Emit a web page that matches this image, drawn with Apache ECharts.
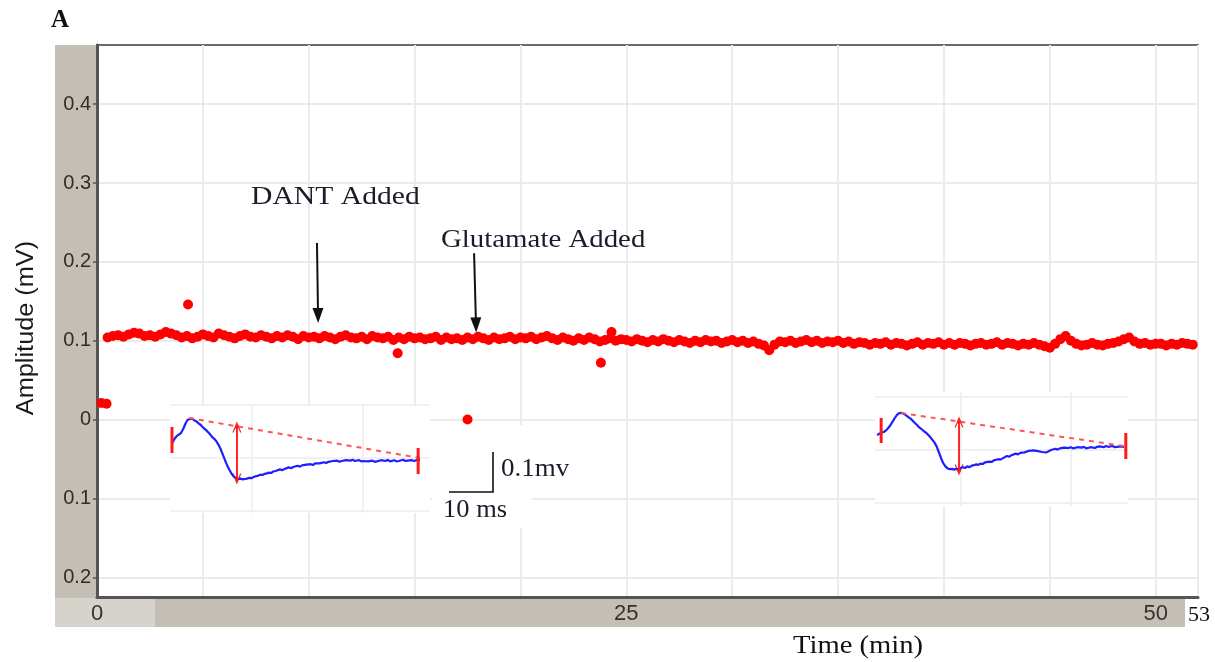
<!DOCTYPE html>
<html>
<head>
<meta charset="utf-8">
<script src="https://cdn.jsdelivr.net/npm/echarts@6/dist/echarts.min.js"></script>
<style>
  html, body { margin: 0; padding: 0; background: #ffffff; }
  #chart { width: 1215px; height: 662px; }
</style>
</head>
<body>
<div id="chart"></div>
<script>
// Field potential amplitude (mV), one reading every 0.25 min starting at 0.5 min
const sampleStart = 0.5;
const sampleStep = 0.25;
const amplitudeValues = [
  0.104,0.106,0.107,0.105,0.108,0.110,0.109,0.106,0.107,0.105,0.108,0.111,0.109,0.107,0.104,0.106,0.103,0.105,0.108,
  0.106,0.104,0.109,0.107,0.105,0.103,0.106,0.108,0.105,0.104,0.107,0.105,0.103,0.106,0.104,0.107,0.105,0.102,0.106,0.104,
  0.105,0.103,0.106,0.104,0.102,0.105,0.107,0.104,0.103,0.105,0.102,0.106,0.104,0.103,0.105,0.101,0.104,0.102,0.105,0.103,
  0.104,0.102,0.103,0.105,0.101,0.104,0.102,0.103,0.101,0.104,0.102,0.105,0.103,0.101,0.104,0.102,0.103,0.105,0.102,0.104,
  0.103,0.105,0.102,0.104,0.106,0.103,0.101,0.104,0.102,0.100,0.103,0.101,0.104,0.102,0.099,0.101,0.103,0.100,0.102,0.101,
  0.099,0.102,0.100,0.098,0.101,0.099,0.102,0.100,0.098,0.101,0.099,0.097,0.100,0.098,0.101,0.099,0.100,0.097,0.099,0.101,
  0.098,0.100,0.097,0.099,0.096,0.094,0.088,0.095,0.099,0.098,0.100,0.097,0.099,0.101,0.098,0.100,0.097,0.099,0.098,0.100,
  0.097,0.099,0.096,0.098,0.097,0.095,0.097,0.096,0.098,0.095,0.097,0.096,0.094,0.096,0.098,0.095,0.097,0.096,0.098,0.095,
  0.097,0.095,0.097,0.096,0.094,0.096,0.097,0.095,0.096,0.098,0.095,0.097,0.096,0.094,0.096,0.095,0.097,0.095,0.093,0.091,
  0.096,0.102,0.106,0.100,0.096,0.094,0.095,0.097,0.095,0.094,0.096,0.097,0.099,0.102,0.104,0.099,0.096,0.097,0.095,0.096,
  0.096,0.094,0.096,0.095,0.097,0.096,0.095
];
// Isolated readings away from the baseline: [time (min), amplitude (mV)]
const strayReadings = [[0.2,0.021],[0.45,0.020],[4.3,0.146],[14.2,0.084],[17.5,0.000],[23.8,0.072],[24.3,0.111]];

const yTickValues = [-0.2,-0.1,0,0.1,0.2,0.3,0.4];
const xLabelValues = [0,25,50];

// Drug application arrows: [time, amplitude] of tail and head
const dantArrow = [[10.39,0.224],[10.44,0.132]];
const glutamateArrow = [[17.81,0.211],[17.9,0.120]];

// Example evoked responses (ms, mV), early and late in the recording
const traceEarly = [
  [0.5,-0.095],[1.0,-0.085],[1.5,-0.078],[2.0,-0.074],[2.5,-0.070],[3.0,-0.060],[3.5,-0.047],[4.0,-0.037],[4.4,-0.033],
  [5.0,-0.034],[5.5,-0.038],[6.0,-0.041],[6.5,-0.046],[7.0,-0.050],[7.5,-0.056],[8.0,-0.061],[8.5,-0.066],[9.0,-0.072],
  [9.5,-0.079],[10.0,-0.084],[10.5,-0.090],[11.0,-0.099],[11.5,-0.110],[12.0,-0.124],[12.5,-0.138],[13.0,-0.151],
  [13.5,-0.162],[14.0,-0.172],[14.5,-0.179],[15.0,-0.183],[15.5,-0.185],[16.0,-0.184],[16.5,-0.186],[17.0,-0.185],
  [17.5,-0.184],[18.0,-0.182],[18.5,-0.183],[19.0,-0.180],[19.5,-0.178],[20.0,-0.177],[20.5,-0.174],[21.0,-0.175],
  [21.5,-0.172],[22.0,-0.171],[22.5,-0.169],[23.0,-0.170],[23.5,-0.166],[24.0,-0.165],[25.0,-0.161],[25.5,-0.163],[26.0,-0.160],
  [27.0,-0.156],[27.5,-0.158],[28.0,-0.155],[29.0,-0.152],[29.5,-0.154],[30.0,-0.151],[31.0,-0.149],[32.0,-0.148],[32.5,-0.150],[33.0,-0.146],[34.0,-0.146],
  [35.0,-0.143],[35.5,-0.145],[36.0,-0.142],[37.0,-0.140],[38.0,-0.139],[38.5,-0.142],[39.0,-0.140],[40.0,-0.138],[41.0,-0.139],[41.5,-0.137],[42.0,-0.140],
  [43.0,-0.138],[43.5,-0.141],[44.0,-0.140],[45.0,-0.141],[46.0,-0.139],[46.5,-0.142],[47.0,-0.141],[48.0,-0.138],[49.0,-0.140],[49.5,-0.137],[50.0,-0.141],
  [51.0,-0.138],[51.5,-0.141],[52.0,-0.140],[53.0,-0.137],[53.5,-0.140],[54.0,-0.139],[55.0,-0.138],[55.5,-0.140],[56.0,-0.138],[56.8,-0.137]
];
const baselineEarly = [[4.3,-0.0325],[56.8,-0.1325]];
const amplitudeEarly = [[15.2,-0.055],[15.2,-0.185]];
const cursorsEarly = [[0.45,-0.055,-0.12],[56.4,-0.1075,-0.1725]];

const traceLate = [
  [0.5,-0.108],[1.0,-0.104],[1.5,-0.101],[2.0,-0.100],[2.5,-0.096],[3.0,-0.090],[3.5,-0.083],[4.0,-0.074],[4.5,-0.065],
  [5.0,-0.057],[5.5,-0.053],[6.0,-0.052],[6.5,-0.054],[7.0,-0.058],[7.5,-0.062],[8.0,-0.066],[8.5,-0.071],[9.0,-0.077],
  [9.5,-0.082],[10.0,-0.088],[10.5,-0.092],[11.0,-0.097],[11.5,-0.101],[12.0,-0.106],[12.5,-0.112],[13.0,-0.119],
  [13.5,-0.126],[14.0,-0.136],[14.5,-0.150],[15.0,-0.165],[15.5,-0.178],[16.0,-0.186],[16.5,-0.191],[17.0,-0.193],
  [17.5,-0.192],[18.0,-0.194],[18.5,-0.192],[19.0,-0.193],[19.5,-0.190],[20.0,-0.188],[20.5,-0.190],[21.0,-0.186],
  [21.5,-0.188],[22.0,-0.184],[22.5,-0.183],[23.0,-0.181],[23.5,-0.182],[24.0,-0.179],[24.5,-0.180],[25.0,-0.176],[26.0,-0.174],[26.5,-0.175],[27.0,-0.171],
  [28.0,-0.168],[28.5,-0.169],[29.0,-0.166],[30.0,-0.160],[30.5,-0.162],[31.0,-0.158],[32.0,-0.154],[32.5,-0.156],[33.0,-0.152],[34.0,-0.151],[35.0,-0.147],
  [36.0,-0.146],[37.0,-0.148],[38.0,-0.150],[39.0,-0.151],[40.0,-0.145],[41.0,-0.142],[41.5,-0.144],[42.0,-0.141],[43.0,-0.139],
  [44.0,-0.140],[44.5,-0.138],[45.0,-0.141],[46.0,-0.138],[47.0,-0.139],[47.5,-0.137],[48.0,-0.141],[49.0,-0.138],[50.0,-0.140],[50.5,-0.137],[51.0,-0.136],
  [52.0,-0.138],[52.5,-0.135],[53.0,-0.137],[54.0,-0.135],[54.5,-0.138],[55.0,-0.137],[56.0,-0.136],[56.6,-0.137]
];
const baselineLate = [[5.9,-0.0525],[56.6,-0.135]];
const amplitudeLate = [[19.1,-0.075],[19.1,-0.195]];
const cursorsLate = [[1.4,-0.065,-0.1275],[57.0,-0.1025,-0.1675]];

// ---------------------------------------------------------------
const amplitudePoints = amplitudeValues.map((v, i) => [sampleStart + i * sampleStep, v]);

const serif = '"Liberation Serif", "Times New Roman", serif';
const sans = '"Liberation Sans", Arial, sans-serif';
const narrow = '"Liberation Sans Narrow", "Arial Narrow", "Liberation Sans", Arial, sans-serif';
const red = '#ff1a1a';
const openHead = 'path://M0,12 L5,0 L10,12 L8.6,12 L5,3.2 L1.4,12 Z';

function insetSeries(idx, trace, baseline, amp, cursors) {
  const common = { type: 'line', xAxisIndex: idx, yAxisIndex: idx, silent: true, z: 6, animation: false, showSymbol: false };
  const list = [
    Object.assign({}, common, { data: trace, lineStyle: { color: '#1e1eff', width: 2.2 } }),
    Object.assign({}, common, { data: baseline, lineStyle: { color: '#ff5555', width: 2, type: [5, 5] } }),
    Object.assign({}, common, {
      data: amp, showSymbol: true, symbol: 'circle', symbolSize: 4,
      itemStyle: { color: red }, lineStyle: { color: red, width: 1.5 },
      markLine: {
        silent: true, animation: false, symbol: [openHead, openHead], symbolSize: [9, 11],
        label: { show: false }, emphasis: { disabled: true },
        lineStyle: { color: red, width: 1.5, type: 'solid' },
        data: [[{ coord: amp[0] }, { coord: amp[1] }]]
      }
    })
  ];
  cursors.forEach(c => {
    list.push(Object.assign({}, common, {
      data: [[c[0], c[1]], [c[0], c[2]]], lineStyle: { color: red, width: 3 }
    }));
  });
  return list;
}

function insetAxes(idx, xMax, yMin, xLines, yLines) {
  const hidden = { axisLine: { show: false }, axisLabel: { show: false } };
  const split = { show: true, lineStyle: { color: '#ececec', width: 1.5 } };
  return {
    x: Object.assign({ gridIndex: idx, type: 'value', min: 0, max: xMax, z: 4,
      axisTick: { show: false, customValues: xLines }, splitLine: split }, hidden),
    y: Object.assign({ gridIndex: idx, type: 'value', min: yMin, max: 0, z: 4,
      axisTick: { show: false, customValues: yLines }, splitLine: split }, hidden)
  };
}

const insetA = insetAxes(1, 59.09, -0.27, [18.64, 43.86], [0, -0.1325, -0.265]);
const insetB = insetAxes(2, 57.5, -0.285, [19.55, 44.55], [-0.0125, -0.145, -0.2775]);

const chart = echarts.init(document.getElementById('chart'), null, { renderer: 'canvas' });

const option = {
  animation: false,
  backgroundColor: '#ffffff',
  grid: [
    { left: 97, top: 45, width: 1101, height: 552, show: true, backgroundColor: '#ffffff',
      borderColor: '#6a6a6a', borderWidth: 2, z: 0 },
    { left: 170, top: 405, width: 260, height: 108, show: true, backgroundColor: '#ffffff', borderWidth: 0, z: 3 },
    { left: 875, top: 392, width: 253, height: 114, show: true, backgroundColor: '#ffffff', borderWidth: 0, z: 3 }
  ],
  xAxis: [
    {
      gridIndex: 0, type: 'value', min: 0, max: 52, interval: 5,
      axisLine: { show: true, onZero: false, lineStyle: { color: '#555', width: 3 } },
      axisTick: { show: false },
      axisLabel: { customValues: xLabelValues, color: '#333', fontSize: 22, fontFamily: narrow, margin: 6 },
      splitLine: { show: true, lineStyle: { color: '#ebebeb', width: 2 } }
    },
    insetA.x, insetB.x
  ],
  yAxis: [
    {
      gridIndex: 0, type: 'value', min: -0.225, max: 0.475,
      axisLine: { show: true, onZero: false, lineStyle: { color: '#555', width: 3 } },
      axisTick: { show: true, customValues: yTickValues, length: 4, lineStyle: { color: '#555', width: 1.5 } },
      axisLabel: {
        customValues: yTickValues, color: '#2e2e2e', fontSize: 20, fontFamily: sans, margin: 6,
        formatter: v => (Math.abs(v) < 1e-9 ? '0' : Math.abs(v).toFixed(1))
      },
      splitLine: { show: true, lineStyle: { color: '#ebebeb', width: 2 } }
    },
    insetA.y, insetB.y
  ],
  series: [
    {
      type: 'scatter', xAxisIndex: 0, yAxisIndex: 0, silent: true, z: 2,
      symbol: 'circle', symbolSize: 10,
      itemStyle: { color: '#ff0000', opacity: 1 },
      data: amplitudePoints.concat(strayReadings),
      markLine: {
        silent: true, animation: false, symbol: ['none', 'triangle'], symbolSize: [11, 15],
        label: { show: false }, emphasis: { disabled: true },
        lineStyle: { color: '#111111', width: 2, type: 'solid' },
        data: [
          [{ coord: dantArrow[0] }, { coord: dantArrow[1] }],
          [{ coord: glutamateArrow[0] }, { coord: glutamateArrow[1] }]
        ]
      }
    }
  ].concat(
    insetSeries(1, traceEarly, baselineEarly, amplitudeEarly, cursorsEarly),
    insetSeries(2, traceLate, baselineLate, amplitudeLate, cursorsLate)
  ),
  graphic: [
    // axis label bands
    { type: 'rect', z: -1, silent: true, shape: { x: 55, y: 45, width: 42, height: 553 }, style: { fill: '#c5beb4' } },
    { type: 'rect', z: -1, silent: true, shape: { x: 55, y: 598, width: 100, height: 29 }, style: { fill: '#d6d2cc' } },
    { type: 'rect', z: -1, silent: true, shape: { x: 155, y: 598, width: 1030, height: 29 }, style: { fill: '#c5beb4' } },
    { type: 'text', z: 10, silent: true, x: 1199, y: 615,
      style: { text: '53', fill: '#111', font: '22px ' + serif, textAlign: 'center', textVerticalAlign: 'middle' } },
    // scale bar
    { type: 'rect', z: 3, silent: true, shape: { x: 432, y: 425, width: 100, height: 103 }, style: { fill: '#ffffff' } },
    { type: 'polyline', z: 4, silent: true, shape: { points: [[449, 492], [493, 492], [493, 452]] },
      style: { stroke: '#111', lineWidth: 1.6, fill: null } },
    { type: 'text', z: 10, silent: true, x: 501, y: 469, scaleX: 1.08,
      style: { text: '0.1mv', fill: '#1b1b2b', font: '25px ' + serif, textAlign: 'left', textVerticalAlign: 'middle' } },
    { type: 'text', z: 10, silent: true, x: 443, y: 510, scaleX: 1.06,
      style: { text: '10 ms', fill: '#1b1b2b', font: '25px ' + serif, textAlign: 'left', textVerticalAlign: 'middle' } },
    // annotations
    { type: 'text', z: 10, silent: true, x: 51, y: 21,
      style: { text: 'A', fill: '#111', font: 'bold 25px ' + serif, textAlign: 'left', textVerticalAlign: 'middle' } },
    { type: 'text', z: 10, silent: true, x: 251, y: 197, scaleX: 1.14,
      style: { text: 'DANT Added', fill: '#1b1b2b', font: '26px ' + serif, textAlign: 'left', textVerticalAlign: 'middle' } },
    { type: 'text', z: 10, silent: true, x: 441, y: 240, scaleX: 1.11,
      style: { text: 'Glutamate Added', fill: '#1b1b2b', font: '26px ' + serif, textAlign: 'left', textVerticalAlign: 'middle' } },
    { type: 'text', z: 10, silent: true, x: 858, y: 646, scaleX: 1.1,
      style: { text: 'Time (min)', fill: '#111', font: '26px ' + serif, textAlign: 'center', textVerticalAlign: 'middle' } },
    { type: 'text', z: 10, silent: true, x: 27, y: 328, rotation: Math.PI / 2, scaleX: 1.1,
      style: { text: 'Amplitude (mV)', fill: '#1a1a1a', font: '23px ' + sans, textAlign: 'center', textVerticalAlign: 'middle' } }
  ]
};

chart.setOption(option);
</script>
</body>
</html>
